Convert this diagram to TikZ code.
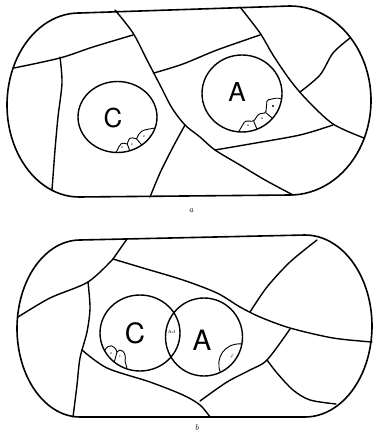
\documentclass[tikz,border=0pt]{standalone}
\usepackage{fontspec}
\setsansfont{TeX Gyre Heros}
\begin{document}
\begin{tikzpicture}[x=1pt,y=-1pt,
  edge/.style={line width=1.4pt, line join=round, line cap=round},
  rim/.style={line width=1.6pt, line join=round},
  cellw/.style={line width=0.9pt, line join=round},
  bigA/.style={font=\sffamily\fontsize{26}{26}\selectfont, inner sep=0pt},
  bigB/.style={font=\sffamily\fontsize{28}{28}\selectfont, inner sep=0pt},
  tiny/.style={font=\fontsize{4}{4}\selectfont, inner sep=0pt},
  capt/.style={font=\itshape\fontsize{8.5}{8.5}\selectfont, inner sep=0pt}]
\fill[white] (0,0) rectangle (376,438);
\useasboundingbox (0,0) rectangle (376,438);

% ---------- panel a ----------
\draw[rim] (80,13) -- (290,6) -- plot[domain=90:-90, samples=50] ({290+81*cos(\x)}, {100.5-94.5*sin(\x)}) -- (79,197) -- plot[domain=270:90, samples=50] ({79+72*cos(\x)},{105-92*sin(\x)}) -- cycle;
\draw[edge] plot[smooth] coordinates {(14,68) (60,58) (93,47) (133,35)};
\draw[edge] plot[smooth] coordinates {(115,10) (133,33) (147,60) (160,85) (172,108) (185,125) (200,137) (215,150) (240,165) (265,180) (293,195)};
\draw[edge] plot[smooth] coordinates {(60,57) (62,83) (58,117) (55,150) (52,190)};
\draw[edge] plot[smooth] coordinates {(185,125) (173,147) (160,173) (150,197)};
\draw[edge] plot[smooth] coordinates {(154,73) (183,64) (217,50) (260,35)};
\draw[edge] plot[smooth] coordinates {(240,7) (260,33) (273,55) (290,80) (307,100) (333,124) (364,138)};
\draw[edge] plot[smooth] coordinates {(300,92) (320,75) (333,53) (350,38)};
\draw[edge] plot[smooth] coordinates {(215,150) (250,144) (300,135) (333,125)};

\draw[edge] (117.5,117) ellipse [x radius=39.5, y radius=35.5];
\draw[edge] (242,93.5) ellipse [x radius=40, y radius=38.5];
\node[bigA] (Ca) at (113,118) {C};
\node[bigA] (Aa) at (237,92) {A};

% cells in C (a)
\draw[cellw] (116.1,152.5) .. controls (120.9,142.3) .. (127.3,144) .. controls (129.4,137.1) .. (136.5,138.8) .. controls (140.6,130.4) .. (155.1,128);
\draw[cellw] (127.3,144) -- (129.7,150.8) (136.5,138.8) -- (141.8,145);
\node[tiny] (ca1) at (122,148) {e};
\node[tiny] (ca2) at (132,145) {e};
\node[tiny] (ca3) at (144,137) {e};
% cells in A (a)
\draw[cellw, rounded corners=1.5pt] (238.5,131.9) -- (245,121) -- (253.7,121.3) -- (258.5,114) -- (265.9,112.8) -- (267,100) -- (277,98) -- (281.6,98.9);
\draw[cellw] (253.7,121.3) -- (257,129.2) (265.9,112.8) -- (272.6,118.3);
\node[tiny] (aa1) at (248,126) {a};
\node[tiny] (aa2) at (262,119) {a};
\fill (273,106) circle (1.1);
\node[capt] (la) at (191,211) {a};

% ---------- panel b ----------
\draw[rim] (80,240) -- (305,235) -- plot[domain=90:-90, samples=50] ({305+67*cos(\x)}, {326-91*sin(\x)}) -- (80,417) -- plot[domain=270:90, samples=50] ({80+63*cos(\x)},{328.5-88.5*sin(\x)}) -- cycle;
\draw[edge] (127,239) -- (113,259);
\draw[edge] plot[smooth] coordinates {(113,259) (143,268) (183,280) (217,293) (240,307) (260,317) (290,328) (333,338) (372,342)};
\draw[edge] plot[smooth] coordinates {(18,317) (50,298) (88,282) (113,259)};
\draw[edge] plot[smooth] coordinates {(88,282) (90,308) (87,332) (80,358) (77,385) (73,417)};
\draw[edge] plot[smooth] coordinates {(82,350) (107,368) (150,382) (183,395) (200,405) (210,417)};
\draw[edge] plot[smooth] coordinates {(200,401) (227,382) (250,370) (267,360) (290,329)};
\draw[edge] plot[smooth] coordinates {(267,360) (277,373) (293,390) (310,400) (336,404)};
\draw[edge] plot[smooth] coordinates {(250,312) (267,287) (290,262) (317,240)};

\draw[edge] (140,333) ellipse [x radius=40, y radius=38];
\draw[edge] (204,337) ellipse [x radius=38.5, y radius=39];
\node[bigB] (Cb) at (135,333) {C};
\node[bigB] (Ab) at (202,340) {A};
\node[tiny, font=\fontsize{4.5}{4.5}\selectfont] (ad) at (171.5,332) {Ad};

% cells in C (b)
\draw[cellw] (104.7,350.8) .. controls (108,343) and (115,345) .. (117,352) .. controls (120,347) and (127,352) .. (125,361) -- (127,368.5);
\draw[cellw] (117,352) -- (114.3,362.1);
\node[tiny] (cb1) at (111,354) {e};
\node[tiny] (cb2) at (120,357) {c};
% cell in A (b)
\draw[cellw] (220.3,372.3) .. controls (215,358) and (224,343) .. (241.9,343.8);
\node[tiny, font=\fontsize{3.5}{3.5}\selectfont, rotate=60] (ab1) at (232,356) {ae};
\node[capt] (lb) at (197,428) {b};
\end{tikzpicture}
\end{document}
